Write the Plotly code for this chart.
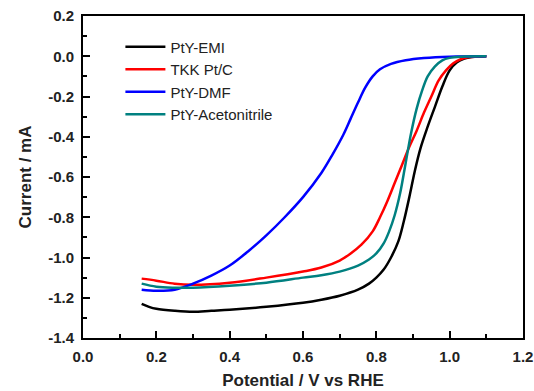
import plotly.graph_objects as go

emi_x = [0.16, 0.18, 0.2, 0.25, 0.3, 0.35, 0.4, 0.5, 0.6, 0.65, 0.7, 0.75, 0.78, 0.8, 0.82, 0.84, 0.86, 0.875, 0.89, 0.905, 0.92, 0.94, 0.96, 0.98, 1.0, 1.02, 1.04, 1.06, 1.1]
emi_y = [-1.23, -1.245, -1.255, -1.265, -1.27, -1.265, -1.26, -1.245, -1.225, -1.21, -1.19, -1.16, -1.13, -1.1, -1.06, -1.0, -0.92, -0.82, -0.7, -0.57, -0.46, -0.35, -0.25, -0.15, -0.07, -0.03, -0.012, -0.004, 0.0]

tkk_x = [0.16, 0.2, 0.25, 0.3, 0.4, 0.5, 0.6, 0.65, 0.7, 0.73, 0.76, 0.79, 0.81, 0.83, 0.85, 0.87, 0.89, 0.91, 0.93, 0.95, 0.97, 0.99, 1.01, 1.03, 1.05, 1.1]
tkk_y = [-1.105, -1.115, -1.13, -1.135, -1.125, -1.1, -1.07, -1.05, -1.015, -0.98, -0.935, -0.87, -0.8, -0.72, -0.63, -0.54, -0.45, -0.37, -0.28, -0.2, -0.12, -0.07, -0.035, -0.015, -0.005, 0.0]

dmf_x = [0.16, 0.2, 0.25, 0.3, 0.35, 0.4, 0.45, 0.5, 0.55, 0.6, 0.65, 0.68, 0.71, 0.73, 0.75, 0.77, 0.79, 0.81, 0.84, 0.88, 0.93, 1.0, 1.1]
dmf_y = [-1.16, -1.165, -1.16, -1.13, -1.09, -1.04, -0.97, -0.89, -0.80, -0.70, -0.58, -0.49, -0.39, -0.31, -0.23, -0.155, -0.1, -0.065, -0.038, -0.02, -0.009, -0.002, 0.0]

acn_x = [0.16, 0.2, 0.25, 0.3, 0.4, 0.5, 0.6, 0.65, 0.7, 0.75, 0.78, 0.8, 0.82, 0.835, 0.85, 0.865, 0.88, 0.895, 0.91, 0.925, 0.94, 0.96, 0.98, 1.0, 1.03, 1.1]
acn_y = [-1.13, -1.145, -1.15, -1.15, -1.14, -1.125, -1.1, -1.088, -1.07, -1.04, -1.01, -0.98, -0.93, -0.87, -0.79, -0.68, -0.53, -0.38, -0.26, -0.17, -0.1, -0.05, -0.02, -0.008, -0.002, 0.0]

names = ["PtY-EMI", "TKK Pt/C", "PtY-DMF", "PtY-Acetonitrile"]
colors = ["#000000", "#FF0000", "#0000FF", "#008080"]

fig = go.Figure()
for name, xs, ys, c in zip(names, [emi_x, tkk_x, dmf_x, acn_x], [emi_y, tkk_y, dmf_y, acn_y], colors):
    fig.add_trace(go.Scatter(x=xs, y=ys, mode="lines", name=name,
                             line=dict(color=c, width=2.5, shape="spline", smoothing=1.0)))

font_family = "Liberation Sans, Arial, sans-serif"
axis_common = dict(
    showline=True, linecolor="black", linewidth=2, mirror=True,
    ticks="inside", ticklen=7, tickwidth=2, tickcolor="black",
    showgrid=False, zeroline=False, automargin=False,
    tickfont=dict(family=font_family, size=15, color="#222", weight="bold"),
)

fig.update_layout(
    width=534, height=391,
    margin=dict(l=83, r=11, t=16, b=53),
    paper_bgcolor="white", plot_bgcolor="white",
    font=dict(family=font_family, color="#222"),
    showlegend=True,
    legend=dict(x=0.085, y=0.955, xanchor="left", yanchor="top",
                bgcolor="rgba(0,0,0,0)", tracegroupgap=0,
                font=dict(family=font_family, size=15, color="#222"),
                itemwidth=40),
    xaxis=dict(range=[0, 1.2], tickvals=[0, 0.2, 0.4, 0.6, 0.8, 1.0, 1.2],
               ticktext=["0.0", "0.2", "0.4", "0.6", "0.8", "1.0", "1.2"],
               ticklabelstandoff=4,
               minor=dict(dtick=0.1, ticks="inside", ticklen=4, tickwidth=2, tickcolor="black"),
               title=dict(text="Potential / V vs RHE", standoff=10,
                          font=dict(family=font_family, size=17, color="#222", weight="bold")),
               **axis_common),
    yaxis=dict(range=[-1.4, 0.2], tickvals=[-1.4, -1.2, -1.0, -0.8, -0.6, -0.4, -0.2, 0.0, 0.2],
               ticktext=["-1.4", "-1.2", "-1.0", "-0.8", "-0.6", "-0.4", "-0.2", "0.0", "0.2"],
               ticklabelstandoff=4,
               minor=dict(dtick=0.1, ticks="inside", ticklen=4, tickwidth=2, tickcolor="black"),
               title=dict(text="Current / mA", standoff=12,
                          font=dict(family=font_family, size=17, color="#222", weight="bold")),
               **axis_common),
)

fig.write_html("out.html", config={"displayModeBar": False},
               post_script="document.body.style.margin='0';document.body.style.overflow='hidden';")
